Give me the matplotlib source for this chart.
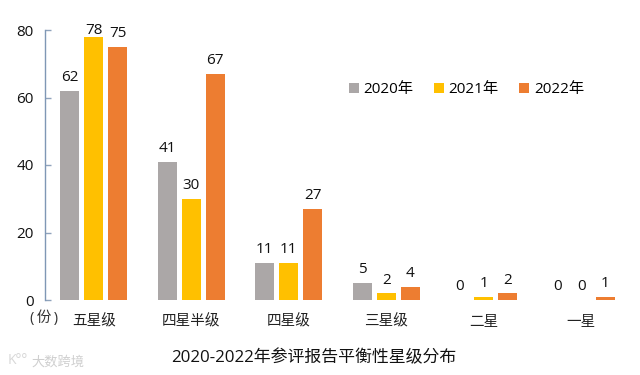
import matplotlib
matplotlib.use('Agg')
import matplotlib.pyplot as plt
import numpy as np

plt.rcParams['font.family'] = ['Open Sans', 'Noto Sans CJK SC', 'DejaVu Sans']

categories = ['五星级', '四星半级', '四星级', '三星级', '二星', '一星']
years = ['2020年', '2021年', '2022年']
v2020 = [62, 41, 11, 5, 0, 0]
v2021 = [78, 30, 11, 2, 1, 0]
v2022 = [75, 67, 27, 4, 2, 1]
colors = ['#ABA7A7', '#FFC000', '#ED7D31']
yticks = [0, 20, 40, 60, 80]

W, H = 640, 375
fig = plt.figure(figsize=(W/100, H/100), dpi=100)
ax = fig.add_axes([45/W, 1-300/H, 585/W, 270/H])
x = np.arange(len(categories))
bw, off = 0.197, 0.247
for i, (vals, c, lab) in enumerate(zip([v2020, v2021, v2022], colors, years)):
    xs = x + (i-1)*off
    ax.bar(xs, vals, bw, color=c, label=lab)
    for xi, v in zip(xs, vals):
        ax.text(xi, v + (1.7 if v != 78 else -0.3), str(v), ha='center', va='bottom', fontsize=11,
                color='#111111', clip_on=False)

ax.set_xlim(-0.5, 5.5)
ax.set_ylim(0, 80)
ax.set_yticks(yticks)
ax.set_xticks(x)
ax.set_xticklabels(categories, fontsize=10.5, color='#222222')
ax.tick_params(axis='x', length=0, pad=10.5)
ax.tick_params(axis='y', direction='in', length=4, color='#8FA3BC', width=1, labelsize=11, pad=8, labelcolor='#111111')
for s in ['top', 'right', 'bottom']:
    ax.spines[s].set_visible(False)
ax.spines['left'].set_color('#7F97B5')
ax.spines['left'].set_linewidth(1)

fig.text(44/W, 1-318/H, '(\u2009份\u2009)', fontsize=10.5, color='#333333', ha='center', va='center')
fig.text(314/W, 1-358/H, '2020-2022年参评报告平衡性星级分布', fontsize=12.2, color='#111111', ha='center', va='center')
fig.text(58/W, 1-362/H, '大数跨境', fontsize=9.5, color='#CFCFCF', ha='center', va='center')
fig.text(18/W, 1-361/H, 'K°°', fontsize=10, color='#D8D8D8', ha='center', va='center')

ax.legend(loc='upper left', bbox_to_anchor=((349-45)/585, (300-82)/270), ncol=3, frameon=False,
          fontsize=11, handlelength=0.65, handleheight=0.65, handletextpad=0.3,
          columnspacing=1.35, borderpad=0, borderaxespad=0)
fig.savefig('out.png', dpi=100)
